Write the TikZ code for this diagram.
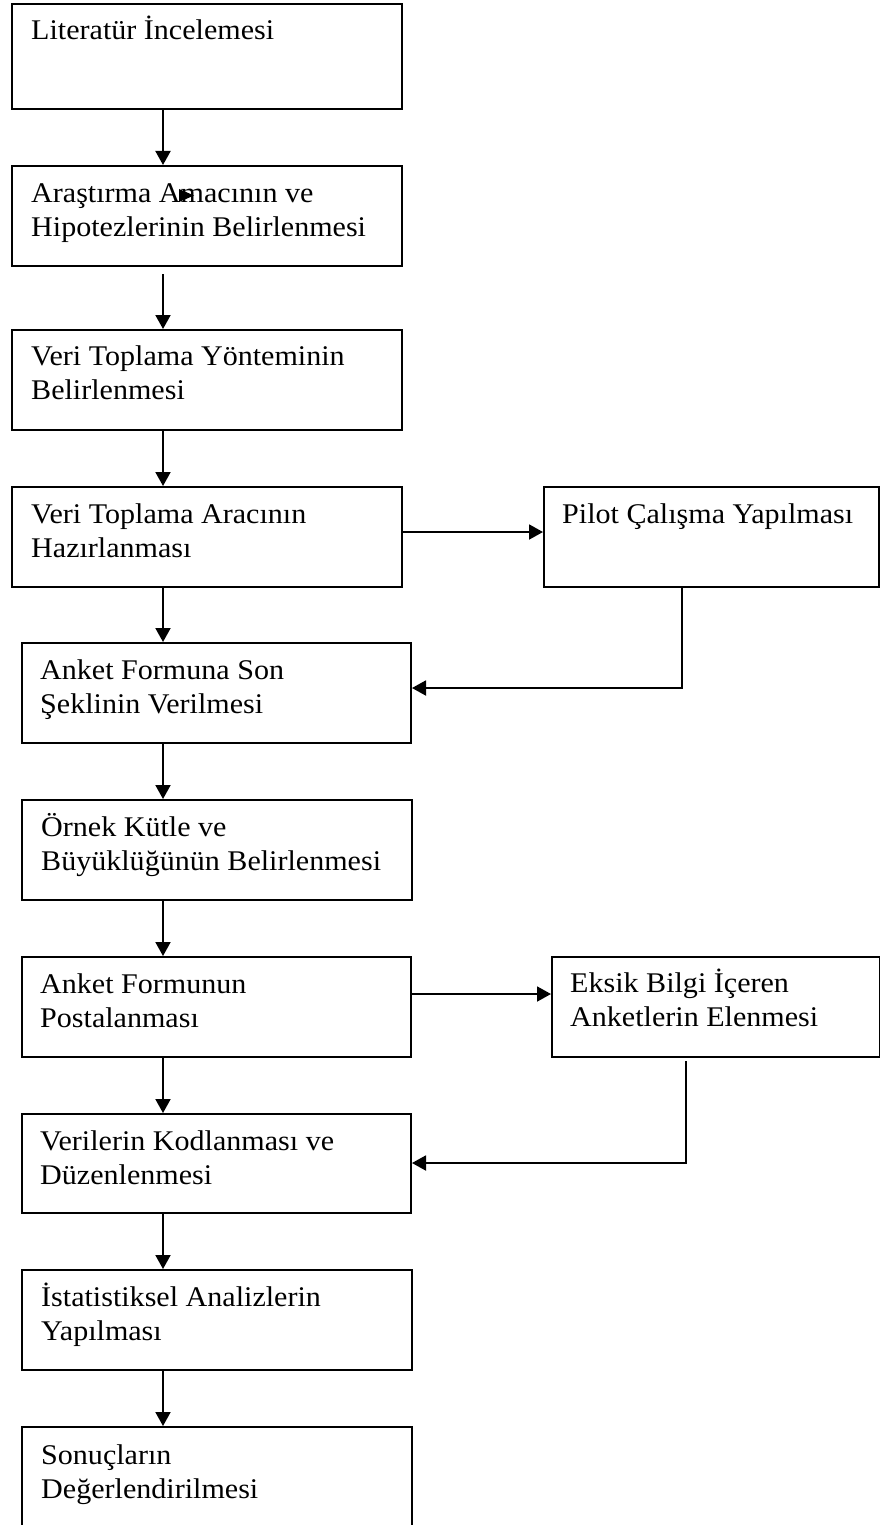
\documentclass[tikz,border=0pt]{standalone}
\usepackage{fontspec}
\setmainfont{Liberation Serif}[FakeStretch=1.055]
\usetikzlibrary{arrows.meta}
\newcommand\tstrut{\rule{0pt}{26pt}}
\begin{document}
\begin{tikzpicture}[x=1pt,y=-1pt,
  box/.style 2 args={draw, line width=2pt, rectangle, anchor=north west,
    inner sep=0pt, minimum width=#1pt, minimum height=#2pt},
  lbl/.style={anchor=north west, inner sep=0pt, align=left,
    font=\fontsize{28.5}{34.5}\selectfont},
  arr/.style={line width=1.9pt, -{Triangle[length=14pt,width=15pt]}},
  plain/.style={line width=1.9pt}]
\fill[white] (0,0) rectangle (880,1525);
\useasboundingbox (0,0) rectangle (880,1525);

% boxes
\node[box={390}{105}] (b1) at (11,3) {};
\node[box={390}{100}] (b2) at (11,165) {};
\node[box={390}{100}] (b3) at (11,329) {};
\node[box={390}{100}] (b4) at (11,486) {};
\node[box={335}{100}] (P)  at (543,486) {};
\node[box={389}{100}] (b5) at (21,642) {};
\node[box={390}{100}] (b6) at (21,799) {};
\node[box={389}{100}] (b7) at (21,956) {};
\node[box={328}{100}] (E)  at (551,956) {};
\node[box={389}{99}]  (b8) at (21,1113) {};
\node[box={390}{100}] (b9) at (21,1269) {};
\node[box={390}{130}] (b10) at (21,1426) {};

% texts
\node[lbl] (t1) at ([xshift=20pt,yshift=-10pt]b1.north west) {\tstrut Literatür İncelemesi};
\node[lbl] (t2) at ([xshift=20pt,yshift=-11pt]b2.north west) {\tstrut Araştırma Amacının ve\\Hipotezlerinin Belirlenmesi};
\node[lbl] (t3) at ([xshift=20pt,yshift=-10pt]b3.north west) {\tstrut Veri Toplama Yönteminin\\Belirlenmesi};
\node[lbl] (t4) at ([xshift=20pt,yshift=-11pt]b4.north west) {\tstrut Veri Toplama Aracının\\Hazırlanması};
\node[lbl] (tP) at ([xshift=19pt,yshift=-11pt]P.north west) {\tstrut Pilot Çalışma Yapılması};
\node[lbl] (t5) at ([xshift=19pt,yshift=-11pt]b5.north west) {\tstrut Anket Formuna Son\\Şeklinin Verilmesi};
\node[lbl] (t6) at ([xshift=20pt,yshift=-11pt]b6.north west) {\tstrut Örnek Kütle ve\\Büyüklüğünün Belirlenmesi};
\node[lbl] (t7) at ([xshift=19pt,yshift=-11pt]b7.north west) {\tstrut Anket Formunun\\Postalanması};
\node[lbl] (tE) at ([xshift=19pt,yshift=-10pt]E.north west) {\tstrut Eksik Bilgi İçeren\\Anketlerin Elenmesi};
\node[lbl] (t8) at ([xshift=19pt,yshift=-11pt]b8.north west) {\tstrut Verilerin Kodlanması ve\\Düzenlenmesi};
\node[lbl] (t9) at ([xshift=20pt,yshift=-11pt]b9.north west) {\tstrut İstatistiksel Analizlerin\\Yapılması};
\node[lbl] (t10) at ([xshift=20pt,yshift=-12pt]b10.north west) {\tstrut Sonuçların\\Değerlendirilmesi};

% stray arrowhead over "Amacının"
\fill (179,189) -- (194,195.5) -- (179,202) -- cycle;

% helper coordinates
\coordinate (ax) at (163,0);
\coordinate (hy1) at (0,532);
\coordinate (hy2) at (0,994);
\coordinate (f1) at (682,688);
\coordinate (f2) at (686,1163);

% vertical main arrows
\draw[arr] (b1.south -| ax) -- (b2.north -| ax);
\draw[arr, shorten <=7pt] (b2.south -| ax) -- (b3.north -| ax);
\draw[arr] (b3.south -| ax) -- (b4.north -| ax);
\draw[arr] (b4.south -| ax) -- (b5.north -| ax);
\draw[arr] (b5.south -| ax) -- (b6.north -| ax);
\draw[arr] (b6.south -| ax) -- (b7.north -| ax);
\draw[arr] (b7.south -| ax) -- (b8.north -| ax);
\draw[arr] (b8.south -| ax) -- (b9.north -| ax);
\draw[arr] (b9.south -| ax) -- (b10.north -| ax);

% side branches
\draw[arr] (b4.east |- hy1) -- (P.west |- hy1);
\draw[arr] (b7.east |- hy2) -- (E.west |- hy2);

% feedback lines
\draw[arr] (P.south -| f1) |- (b5.east |- f1);
\draw[arr, shorten <=3pt] (E.south -| f2) |- (b8.east |- f2);
\end{tikzpicture}
\end{document}
